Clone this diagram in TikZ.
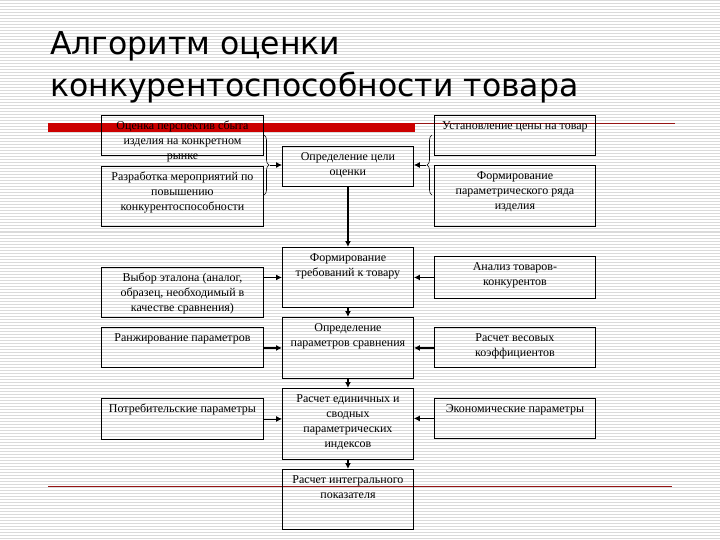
\documentclass[tikz,border=0pt]{standalone}
\usepackage{fontspec}
\setmainfont{Liberation Serif}
\newfontfamily\titlefont{DejaVu Sans}
\usetikzlibrary{positioning,decorations.pathreplacing,arrows.meta}

\definecolor{stripe}{RGB}{218,218,218}
\definecolor{barred}{RGB}{204,0,0}
\definecolor{linered}{RGB}{150,20,20}

\begin{document}
\begin{tikzpicture}[
  x=1pt, y=-1pt,
  box/.style={draw, line width=0.9pt, anchor=north west, inner sep=0pt},
  txt/.style={align=center, inner sep=0pt, font=\fontsize{12}{15}\selectfont},
  ttl/.style={anchor=base west, inner sep=0pt, font=\titlefont\fontsize{31.5}{38}\selectfont},
  arr/.style={-{Latex[length=6pt,width=6pt]}, line width=1.6pt},
  thinarr/.style={-{Latex[length=6pt,width=6pt]}, line width=0.9pt},
  brc/.style={decorate, decoration={brace, amplitude=5pt}, line width=0.6pt}
]
\useasboundingbox (0,0) rectangle (720,540);
% background
\fill[white] (0,0) rectangle (720,540);
\foreach \y in {1,4,...,540}
  \draw[stripe, line width=1pt] (0,\y) -- (720,\y);

% title
\node[ttl] (title1) at (50,55) {Алгоритм оценки};
\node[ttl] (title2) at (50,97) {конкурентоспособности товара};

% red lines
\fill[barred] (48,123) rectangle (415,132);
\draw[linered, line width=1pt] (415,124) -- (675,124);
\draw[linered, line width=1pt] (48,486) -- (672,486);

% left column
\node[box, minimum width=162, minimum height=40] (sbyt) at (101,115) {};
\node[txt, below=6pt of sbyt.north] (sbytt) {Оценка перспектив сбыта\\изделия на конкретном\\рынке};
\node[box, minimum width=162, minimum height=60] (meropr) at (101,166) {};
\node[txt, below=6pt of meropr.north] (meroprt) {Разработка мероприятий по\\повышению\\конкурентоспособности};
\node[box, minimum width=162, minimum height=50] (etalon) at (101,267) {};
\node[txt, below=6pt of etalon.north] (etalont) {Выбор эталона (аналог,\\образец, необходимый в\\качестве сравнения)};
\node[box, minimum width=162, minimum height=40] (ranzh) at (101,327) {};
\node[txt, below=6pt of ranzh.north] (ranzht) {Ранжирование параметров};
\node[box, minimum width=162, minimum height=41] (potreb) at (101,398) {};
\node[txt, below=6pt of potreb.north] (potrebt) {Потребительские параметры};

% center column
\node[box, minimum width=131, minimum height=40] (cel) at (282,146) {};
\node[txt, below=6pt of cel.north] (celt) {Определение цели\\оценки};
\node[box, minimum width=131, minimum height=60] (treb) at (282,247) {};
\node[txt, below=6pt of treb.north] (trebt) {Формирование\\требований к товару};
\node[box, minimum width=131, minimum height=61] (param) at (282,317) {};
\node[txt, below=6pt of param.north] (paramt) {Определение\\параметров сравнения};
\node[box, minimum width=131, minimum height=71] (indeks) at (282,388) {};
\node[txt, below=6pt of indeks.north] (indekst) {Расчет единичных и\\сводных\\параметрических\\индексов};
\node[box, minimum width=131, minimum height=60] (integr) at (282,469) {};
\node[txt, below=6pt of integr.north] (integrt) {Расчет интегрального\\показателя};

% right column
\node[box, minimum width=161, minimum height=40] (cena) at (434,115) {};
\node[txt, below=6pt of cena.north] (cenat) {Установление цены на товар};
\node[box, minimum width=161, minimum height=61] (ryad) at (434,165) {};
\node[txt, below=6pt of ryad.north] (ryadt) {Формирование\\параметрического ряда\\изделия};
\node[box, minimum width=161, minimum height=42] (konk) at (434,256) {};
\node[txt, below=6pt of konk.north] (konkt) {Анализ товаров-\\конкурентов};
\node[box, minimum width=161, minimum height=40] (ves) at (434,327) {};
\node[txt, below=6pt of ves.north] (vest) {Расчет весовых\\коэффициентов};
\node[box, minimum width=161, minimum height=40] (ekon) at (434,398) {};
\node[txt, below=6pt of ekon.north] (ekont) {Экономические параметры};

% braces
\draw[brc] (264,135) -- (264,195);
\draw[brc] (432,195) -- (432,135);
\coordinate (lbr) at (270,165);
\coordinate (rbr) at (426,165);

% connectors
\draw[thinarr] (lbr) -- (lbr -| cel.west);
\draw[thinarr] (rbr) -- (rbr -| cel.east);
\draw[arr] (cel) -- (treb);
\draw[arr] (treb) -- (param);
\draw[arr] (param) -- (indeks);
\draw[arr] (indeks) -- (integr);
\draw[arr] (treb.west -| etalon.east) -- (treb.west);
\draw[arr] (treb.east -| konk.west) -- (treb.east);
\draw[arr] (param.west -| ranzh.east) -- (param.west);
\draw[arr] (param.east -| ves.west) -- (param.east);
\draw[thinarr] (potreb.east) -- (potreb.east -| indeks.west);
\draw[thinarr] (ekon.west) -- (ekon.west -| indeks.east);
\end{tikzpicture}
\end{document}
